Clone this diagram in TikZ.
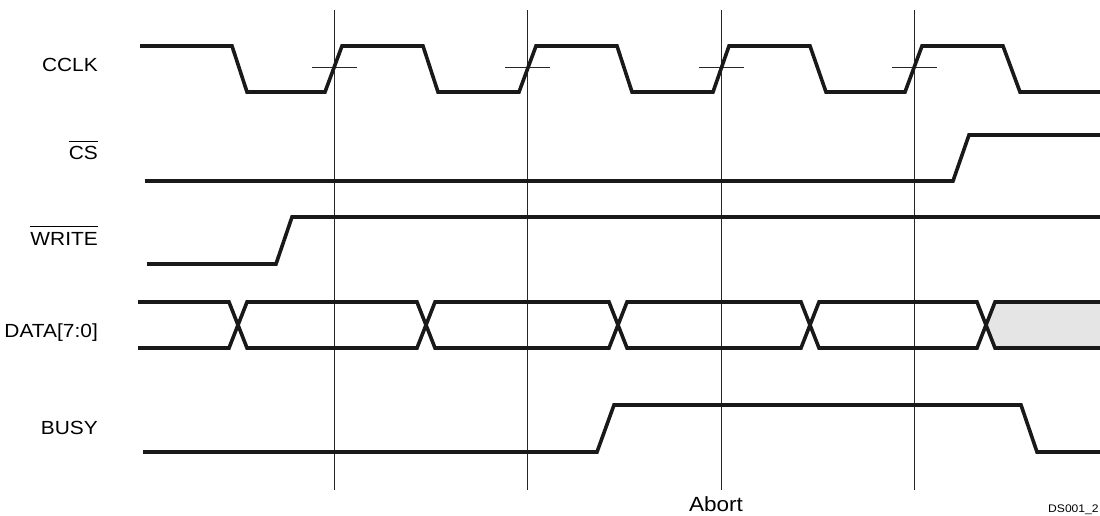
\documentclass[tikz,border=0pt]{standalone}
\usepackage{fontspec}
\setmainfont{Liberation Sans}[FakeStretch=1.1]

\begin{document}
\begin{tikzpicture}[x=1pt,y=-1pt,
        sig/.style={line width=3.6pt,line join=miter,color=black!90},
        guide/.style={line width=1pt,color=black!85},
        lbl/.style={font=\fontsize{19}{22}\selectfont,anchor=base east,inner sep=0pt}]
        \useasboundingbox (0,0) rectangle (1100,516);

        % clock edges used as reference
        \foreach \x in {334,527,721,914} {
            \draw[guide] (\x,10) -- (\x,490);
            \draw[guide] (\x-22,68) -- (\x+23,68);
        }

        % CCLK
        \draw[sig] (140,46) -- (232,46) -- (247,92) -- (325,92) -- (342,46)
            -- (423,46) -- (438,92) -- (519,92) -- (536,46)
            -- (617,46) -- (632,92) -- (713,92) -- (729,46)
            -- (810,46) -- (826,92) -- (905,92) -- (922,46)
            -- (1003,46) -- (1020,92) -- (1100,92);

        % CS and WRITE
        \draw[sig] (145,181) -- (953,181) -- (969,135) -- (1100,135);
        \draw[sig] (147,264) -- (276,264) -- (292,217) -- (1100,217);

        % DATA[7:0]
        \fill[black!10] (986,325) -- (995,302) -- (1100,302) -- (1100,348) -- (995,348) -- cycle;
        \draw[sig] (138,302) -- (229,302) -- (247,348) -- (417,348) -- (435,302)
            -- (609,302) -- (627,348) -- (801,348) -- (819,302)
            -- (977,302) -- (995,348) -- (1100,348);
        \draw[sig] (138,348) -- (229,348) -- (247,302) -- (417,302) -- (435,348)
            -- (609,348) -- (627,302) -- (801,302) -- (819,348)
            -- (977,348) -- (995,302) -- (1100,302);

        % BUSY
        \draw[sig] (143,452) -- (597,452) -- (614,405) -- (1021,405) -- (1037,452) -- (1100,452);

        \node[lbl] (cclk) at (98,72) {CCLK};
        \node[lbl] (cs) at (98,160) {$\overline{\mbox{\rule{0pt}{0.93em}CS}}$};
        \node[lbl] (write) at (98,245) {$\overline{\mbox{\rule{0pt}{0.93em}WRITE}}$};
        \node[lbl] (data) at (98,337) {DATA[7:0]};
        \node[lbl] (busy) at (98,434) {BUSY};
        \node[lbl,font=\fontsize{20.5}{23}\selectfont,anchor=base] (abort) at (716,511) {Abort};
        \node[font=\fontsize{11}{13}\selectfont,anchor=base west,inner sep=0pt] (dsno) at (1048,512) {DS001\_2};

    \end{tikzpicture}
\end{document}
